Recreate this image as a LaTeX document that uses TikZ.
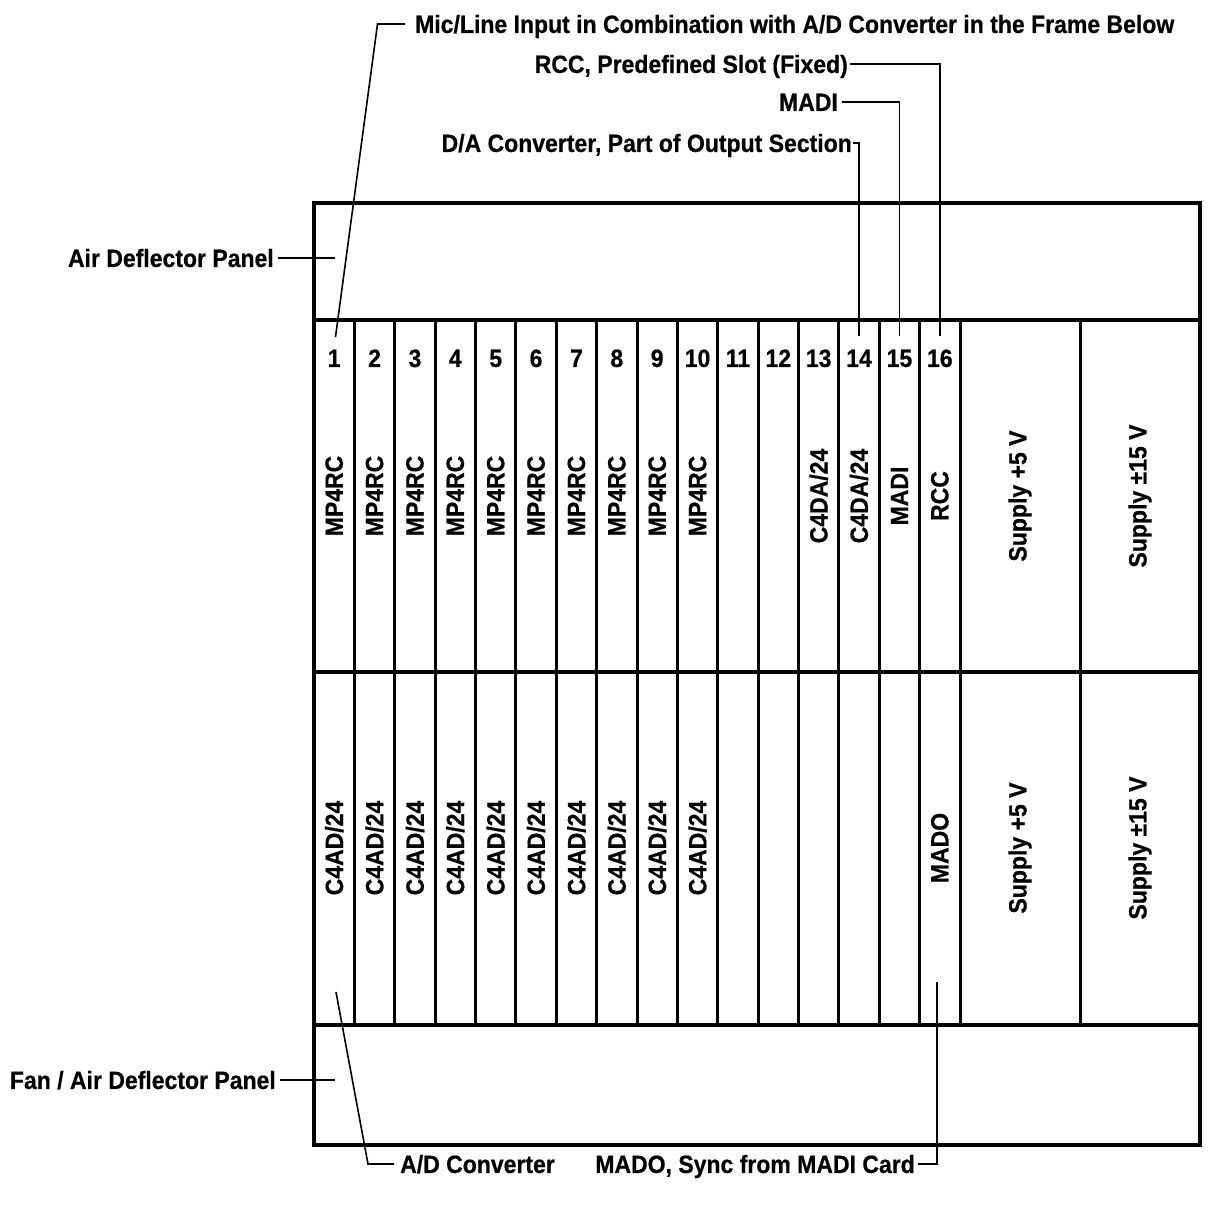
\documentclass[tikz,border=0pt]{standalone}
\usepackage{fontspec}
\setmainfont{Liberation Sans}[FakeStretch=0.92, BoldFeatures={FakeBold=0.6}]
\usetikzlibrary{calc}
\tikzset{
  frameline/.style={line width=3.6pt},
  slotline/.style={line width=3pt},
  leader/.style={line width=1.6pt},
  lbl/.style={inner sep=0pt, text height=17.9pt, text depth=0pt},
  vlbl/.style={inner sep=0pt, rotate=90},
}
\begin{document}
\begin{tikzpicture}[x=1pt,y=-1pt,font=\bfseries\fontsize{25}{29}\selectfont]
\useasboundingbox (0,0) rectangle (1212,1206);
% frame
\draw[frameline] (314,203) rectangle (1200,1145);
\draw[frameline] (314,320) -- (1200,320);
\draw[frameline] (314,672) -- (1200,672);
\draw[frameline] (314,1025) -- (1200,1025);
\foreach \i in {1,...,16} {
  \draw[slotline] ({314+\i*40.375},320) -- ({314+\i*40.375},1025);
}
\draw[slotline] (1080,320) -- (1080,1025);
% slot numbers
\foreach \i in {1,...,16} {
  \node[lbl] (n\i) at ({314+(\i-0.5)*40.375},358) {\i};
}
% upper labels
\foreach \i in {1,...,10} {
  \node[vlbl] (u\i) at ({314+(\i-0.5)*40.375},496) {MP4RC};
  \node[vlbl] (l\i) at ({314+(\i-0.5)*40.375},848) {C4AD/24};
}
\node[vlbl] (u13) at ({314+12.5*40.375},496) {C4DA/24};
\node[vlbl] (u14) at ({314+13.5*40.375},496) {C4DA/24};
\node[vlbl] (u15) at ({314+14.5*40.375},496) {MADI};
\node[vlbl] (u16) at ({314+15.5*40.375},496) {RCC};
\node[vlbl] (l16) at ({314+15.5*40.375},848) {MADO};
\node[vlbl] (p5u) at (1020,496) {Supply +5 V};
\node[vlbl] (p15u) at (1140,496) {Supply ±15 V};
\node[vlbl] (p5l) at (1020,848) {Supply +5 V};
\node[vlbl] (p15l) at (1140,848) {Supply ±15 V};
% callout labels
\node[lbl,anchor=west] (micl) at (415,24) {Mic/Line Input in Combination with A/D Converter in the Frame Below};
\node[lbl,anchor=east] (rcc) at (848,64) {RCC, Predefined Slot (Fixed)};
\node[lbl,anchor=east] (madi) at (838,102) {MADI};
\node[lbl,anchor=east] (da) at (852,143) {D/A Converter, Part of Output Section};
\node[lbl,anchor=east] (air) at (274,258) {Air Deflector Panel};
\node[lbl,anchor=east] (fan) at (276,1080) {Fan / Air Deflector Panel};
\node[lbl,anchor=west] (adc) at (400,1164) {A/D Converter};
\node[lbl,anchor=east] (mado) at (915,1164) {MADO, Sync from MADI Card};
% leader end points
\coordinate (s1) at (335.5,337);
\coordinate (micc) at (377.5,24);
\coordinate (s14) at ({314+13.5*40.375},336);
\coordinate (s15) at ({314+14.5*40.375},336);
\coordinate (s16) at ({314+15.5*40.375},336);
\coordinate (airend) at (335,258);
\coordinate (fanend) at (335,1080);
\coordinate (adtop) at (336,992);
\coordinate (adcorner) at (368,1164);
\coordinate (madotop) at (937,982);
% leaders
\draw[leader] (s1) -- (micc) -- ([xshift=-10pt]micl.west);
\draw[leader] ([xshift=2pt]rcc.east) -| (s16);
\draw[leader] ([xshift=4pt]madi.east) -| (s15);
\draw[leader] ([xshift=1pt]da.east) -| (s14);
\draw[leader] ([xshift=4pt]air.east) -- (airend);
\draw[leader] ([xshift=4pt]fan.east) -- (fanend);
\draw[leader] (adtop) -- (adcorner) -- ([xshift=-6pt]adc.west);
\draw[leader] ([xshift=3pt]mado.east) -| (madotop);
\end{tikzpicture}
\end{document}
